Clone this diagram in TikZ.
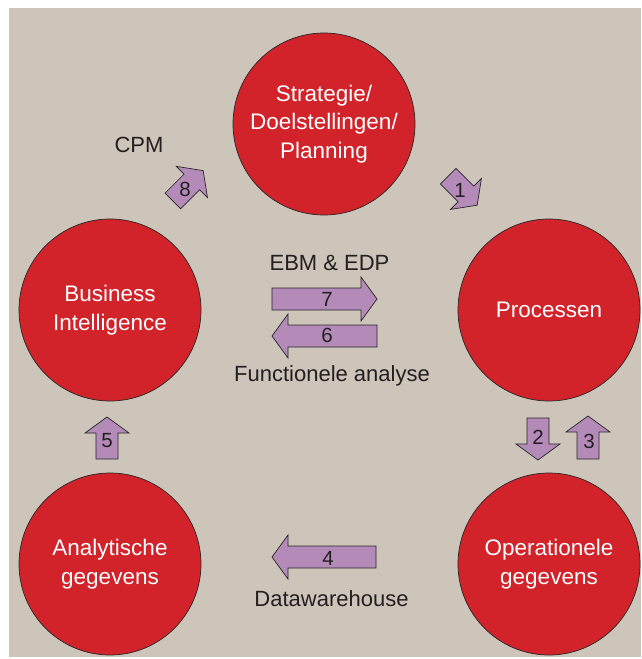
\documentclass[tikz,border=0pt]{standalone}
\usepackage{fontspec}
\setmainfont{Liberation Sans}
\definecolor{bgc}{HTML}{CDC4BA}
\definecolor{discred}{HTML}{D2232A}
\definecolor{arrowpurple}{HTML}{B48AB9}
\definecolor{textdark}{HTML}{231F20}
\newcommand\blockarrow[3]{%
  \begin{scope}[shift={#1}, rotate=#2]
    \draw[barrowshape] (0,-11) -- ({#3-16},-11) -- ({#3-16},-22) -- (#3,0)
      -- ({#3-16},22) -- ({#3-16},11) -- (0,11) -- cycle;
  \end{scope}}
\begin{document}
\begin{tikzpicture}[x=1pt,y=-1pt,
  disc/.style={circle, draw=black!85, line width=0.7pt, fill=discred,
    minimum size=182pt, inner sep=0pt, text=white, align=center,
    font=\fontsize{22.5}{28.5}\selectfont},
  barrowshape/.style={draw=black!85, line width=0.7pt, fill=arrowpurple, line join=miter},
  num/.style={font=\fontsize{20.5}{24}\selectfont, text=textdark, inner sep=0pt},
  lbl/.style={font=\fontsize{22}{26}\selectfont, text=textdark, inner sep=0pt, anchor=base}]
\useasboundingbox (0,0) rectangle (641,659);
\fill[bgc] (9,8) rectangle (641,657);

% circles
\node[disc] (strat) at (324,124) {Strategie/\\Doelstellingen/\\Planning};
\node[disc] (bi) at (110,310) {Business\\Intelligence};
\node[disc] (proc) at (549,310) {Processen};
\node[disc] (anal) at (110,564) {Analytische\\gegevens};
\node[disc] (oper) at (549,564) {Operationele\\gegevens};

% block arrows
\blockarrow{(172.8,201)}{45}{43}
\blockarrow{(448.2,176.2)}{-45}{41}
\blockarrow{(272,299)}{0}{105}
\blockarrow{(377,336)}{180}{105}
\blockarrow{(376,557)}{180}{104}
\blockarrow{(107,459)}{90}{42}
\blockarrow{(538,418)}{-90}{42}
\blockarrow{(588,459)}{90}{43}

% numbers
\node[num] (n1) at (460,190) {1};
\node[num] (n2) at (538,437) {2};
\node[num] (n3) at (589,441) {3};
\node[num] (n4) at (328,558) {4};
\node[num] (n5) at (107,441) {5};
\node[num] (n6) at (327,335) {6};
\node[num] (n7) at (327,299.5) {7};
\node[num] (n8) at (185,189) {8};

% labels
\node[lbl] (cpm) at (139,152) {CPM};
\node[lbl] (ebm) at (329.5,270) {EBM \& EDP};
\node[lbl] (func) at (332,381) {Functionele analyse};
\node[lbl] (dwh) at (331.5,606) {Datawarehouse};
\end{tikzpicture}
\end{document}
